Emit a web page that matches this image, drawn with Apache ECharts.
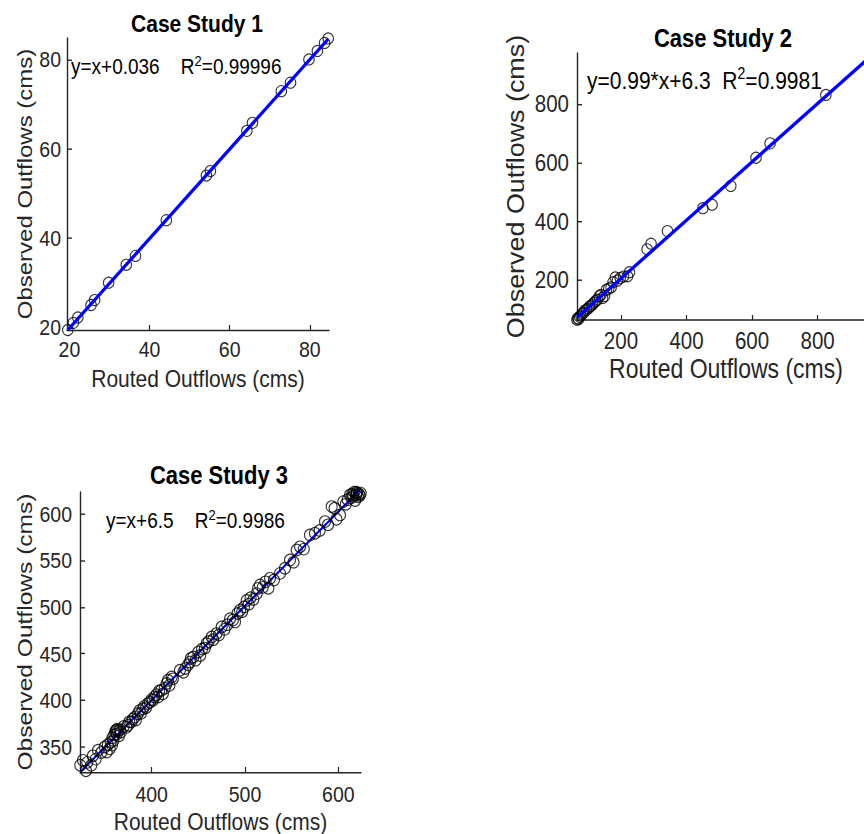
<!DOCTYPE html>
<html><head><meta charset="utf-8">
<script src="https://cdn.jsdelivr.net/npm/echarts@6/dist/echarts.min.js"></script>
<style>html{overflow:hidden}html,body{margin:0;padding:0;background:#fff}body{width:864px;height:834px}#c{width:864px;transform-origin:0 0}</style>
</head><body><div id="c"></div>
<script>
// ---------- data ----------
const titles = ['Case Study 1', 'Case Study 2', 'Case Study 3'];
const fitEquations = ['y=x+0.036    ', 'y=0.99*x+6.3  ', 'y=x+6.5    '];
const fitR2 = ['0.99996', '0.9981', '0.9986'];
const xAxisName = 'Routed Outflows (cms)';
const yAxisName = 'Observed Outflows (cms)';

const cs1Routed   = [19.6, 21.0, 22.1, 25.4, 26.3, 29.8, 34.2, 36.5, 44.2, 54.2, 55.2, 64.3, 65.7, 72.9, 75.2, 79.8, 81.9, 83.7, 84.6];
const cs1Observed = [19.4, 21.0, 22.2, 25.0, 26.1, 30.0, 34.0, 36.0, 44.0, 54.0, 55.0, 64.0, 65.8, 72.9, 74.8, 80.0, 81.9, 83.7, 84.7];

const cs2Routed   = [66, 68, 71, 74, 78, 82, 86, 90, 95, 100, 104, 109, 113, 118, 123, 128, 134, 139, 144, 150, 156, 163, 170, 176, 183, 189, 198, 208, 220, 226, 280, 292, 342, 450, 478, 535, 612, 655, 825, 968];
const cs2Observed = [66, 71, 68, 76, 80, 86, 90, 97, 100, 104, 110, 114, 118, 124, 130, 134, 146, 151, 140, 147, 168, 172, 176, 194, 210, 199, 208, 213, 214, 228, 306, 325, 368, 446, 458, 522, 618, 667, 832, 965];

const cs3Routed = [
  323.5, 326.4, 329.6, 331, 335.3, 337, 340, 342.5, 346, 349.7, 351.8, 353, 355, 356, 357.5, 358, 359, 360, 361, 362, 362.5, 363, 364, 365, 366, 367,
  370, 372.8, 374.6, 376, 378.2, 380, 381.8, 383, 385.3, 387, 388.5, 390.7, 392, 394, 396, 398, 400, 401.4, 403, 405, 406.8, 408, 410.3, 412, 414, 416, 417.5, 419, 421.4, 422.8,
  430.3, 434, 436, 439, 441, 442, 444.6, 447, 450, 452, 454, 457, 459, 461, 464.3, 466, 469.6, 472, 475, 478, 481, 484, 487, 489.3, 492, 494.6, 497, 499, 501.8, 504, 506, 509, 512.5, 514,
  516, 519, 522, 525, 526.8, 531, 537.5, 542.8, 548.2, 552, 555.4, 559, 563, 569.6, 575, 580, 585.7, 589, 592.9, 596, 598, 601.8, 605.4,
  608, 610, 612.5, 614, 615, 616, 617, 618, 619, 620, 621, 622, 623, 624, 619.5];
const cs3Observed = [
  330.5, 335.7, 324.5, 333.5, 330.4, 340.5, 337, 346.5, 344, 350, 344.6, 352.5, 348, 355, 352, 360, 357, 363, 366.5, 368, 364, 369, 367, 362, 368.5, 366,
  372, 371, 373.2, 377, 376.8, 380, 382, 379, 385.6, 389, 386, 391, 393.5, 392, 396.5, 398, 401, 400, 403.5, 406, 403.6, 410, 410.7, 407, 413, 418, 421.5, 416, 425, 423,
  432.2, 430, 434, 438, 441, 445, 446.4, 443, 451.7, 448, 455, 456, 460.8, 463, 467.9, 465, 471.5, 470, 478.6, 476, 481, 487.5, 486, 484, 493, 496.5, 495, 500, 507, 503, 510, 508, 514.3, 520,
  523.6, 521, 527, 520, 530.7, 529, 536, 541.5, 550.4, 548, 561, 564.5, 562, 577.2, 579, 582, 591.5, 588, 607.6, 605.8, 594, 598.6, 612.9,
  610, 615, 620, 617, 621, 619, 623, 614, 620, 622, 618, 621, 619.5, 622, 623];

const cs1Ticks  = [20, 40, 60, 80];
const cs2Ticks  = [200, 400, 600, 800];
const cs3XTicks = [400, 500, 600];
const cs3YTicks = [350, 400, 450, 500, 550, 600];

// ---------- layout ----------
// The reference figure is stretched vertically; draw at 1/S height and stretch back.
const S = 1.17;
const el = document.getElementById('c');
el.style.height = Math.round(834 / S) + 'px';
el.style.transform = 'scaleY(' + S + ')';
const v = (px) => px / S;

function pairs(xs, ys) { return xs.map((x, i) => [x, ys[i]]); }
function fitLine(xs, ys) {
  const n = xs.length;
  const mx = xs.reduce((a, b) => a + b, 0) / n;
  const my = ys.reduce((a, b) => a + b, 0) / n;
  let sxy = 0, sxx = 0;
  for (let i = 0; i < n; i++) { sxy += (xs[i] - mx) * (ys[i] - my); sxx += (xs[i] - mx) ** 2; }
  const a = sxy / sxx, b = my - a * mx;
  const x0 = Math.min(...xs), x1 = Math.max(...xs);
  return [[x0, a * x0 + b], [x1, a * x1 + b]];
}

const FONT = '"Liberation Sans", Arial, Helvetica, sans-serif';
const AX = '#262626';

function makeAxis(o) {
  return {
    type: 'value', gridIndex: o.g, min: o.min, max: o.max,
    name: o.name, nameLocation: 'middle', nameGap: o.nameGap,
    nameTextStyle: { fontFamily: FONT, fontSize: o.nameSize, color: AX },
    axisLine: { show: true, onZero: false, lineStyle: { color: AX, width: 1.4 } },
    axisTick: { show: true, inside: true, length: o.tickLen, customValues: o.ticks, lineStyle: { color: AX, width: 1.2 } },
    axisLabel: { customValues: o.ticks, margin: o.margin, fontFamily: FONT, fontSize: o.labelSize, color: AX },
    splitLine: { show: false }
  };
}

const chart = echarts.init(el, null, { renderer: 'svg' });

const sets = [pairs(cs1Routed, cs1Observed), pairs(cs2Routed, cs2Observed), pairs(cs3Routed, cs3Observed)];
const fits = [fitLine(cs1Routed, cs1Observed), fitLine(cs2Routed, cs2Observed), fitLine(cs3Routed, cs3Observed)];

function scatter(i, size) {
  return { type: 'scatter', xAxisIndex: i, yAxisIndex: i, data: sets[i], symbol: 'circle', symbolSize: [size, size * 1.05 / S],
    itemStyle: { color: 'rgba(0,0,0,0)', borderColor: '#000', borderWidth: 1 }, z: 2, silent: true };
}
function line(i, w, z) {
  return { type: 'line', xAxisIndex: i, yAxisIndex: i, data: fits[i], showSymbol: false, symbol: 'none',
    lineStyle: { color: '#0000ff', width: w }, z: z, silent: true, clip: true };
}

function titleText(i, x, y, size) {
  return { type: 'text', x: x, y: v(y), z: 10,
    style: { text: titles[i], fontFamily: FONT, fontWeight: 'bold', fontSize: size, fill: '#000', align: 'center', verticalAlign: 'middle' } };
}
function fitLabel(i, x, y, size) {
  return { type: 'text', x: x, y: v(y), z: 10,
    style: {
      text: '{n|' + fitEquations[i] + 'R}{s|2}{n|=' + fitR2[i] + '}',
      align: 'left', verticalAlign: 'middle', fontFamily: FONT, fill: '#000',
      rich: {
        n: { fontFamily: FONT, fontSize: size, fill: '#000', lineHeight: size + 4 },
        s: { fontFamily: FONT, fontSize: Math.round(size * 0.66), fill: '#000', verticalAlign: 'top', lineHeight: size + 4, padding: [0, 0, 7, 0] }
      }
    } };
}

chart.setOption({
  animation: false,
  backgroundColor: '#fff',
  grid: [
    { left: 67, top: v(38), width: 262, height: v(292), containLabel: false, outerBoundsMode: 'none' },
    { left: 577, top: v(53), width: 298, height: v(267), containLabel: false, outerBoundsMode: 'none' },
    { left: 80, top: v(492), width: 281, height: v(280), containLabel: false, outerBoundsMode: 'none' }
  ],
  xAxis: [
    makeAxis({ g: 0, min: 19.4, max: 84.8, ticks: cs1Ticks, name: xAxisName, nameGap: 31, nameSize: 21, labelSize: 19.5, margin: 6.5, tickLen: v(5) }),
    makeAxis({ g: 1, min: 66, max: 975, ticks: cs2Ticks, name: xAxisName, nameGap: 28, nameSize: 23, labelSize: 20.5, margin: 7.5, tickLen: v(5) }),
    makeAxis({ g: 2, min: 323.2, max: 624.3, ticks: cs3XTicks, name: xAxisName, nameGap: 32, nameSize: 21, labelSize: 19.5, margin: 8.5, tickLen: v(5) })
  ],
  yAxis: [
    makeAxis({ g: 0, min: 19.4, max: 84.8, ticks: cs1Ticks, name: yAxisName, nameGap: 29, nameSize: 20.5, labelSize: 19.5, margin: 6, tickLen: 5 }),
    makeAxis({ g: 1, min: 65, max: 975, ticks: cs2Ticks, name: yAxisName, nameGap: 50, nameSize: 23, labelSize: 20.5, margin: 8, tickLen: 5 }),
    makeAxis({ g: 2, min: 323.2, max: 623.2, ticks: cs3YTicks, name: yAxisName, nameGap: 42, nameSize: 21, labelSize: 19.5, margin: 8, tickLen: 5 })
  ],
  series: [
    scatter(0, 10.5), line(0, 3, 3),
    scatter(1, 10.5), line(1, 3, 3),
    line(2, 2, 1), scatter(2, 11)
  ],
  graphic: [
    titleText(0, 197, 23, 21),
    titleText(1, 723, 38, 22),
    titleText(2, 219, 475, 22),
    fitLabel(0, 71, 66, 19),
    fitLabel(1, 587, 80, 21),
    fitLabel(2, 106, 520, 19)
  ]
});
</script>
</body></html>
